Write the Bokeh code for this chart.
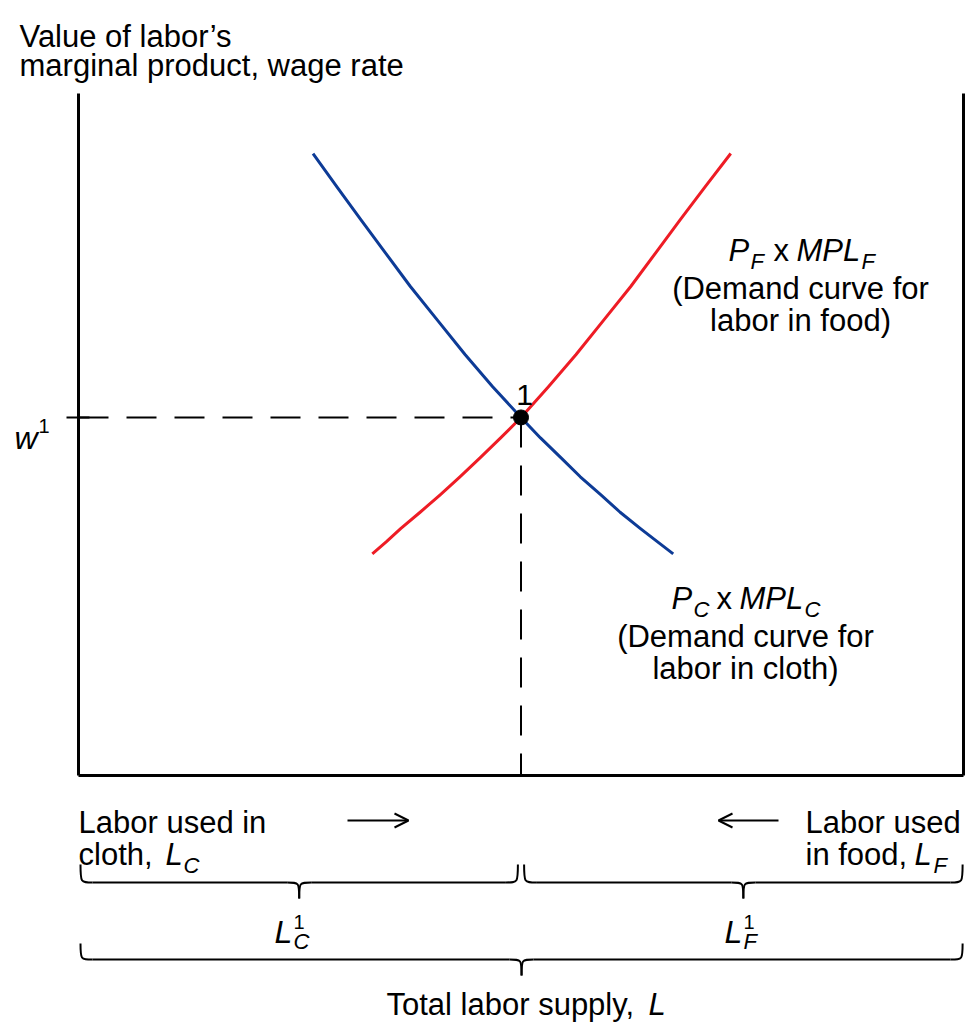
from bokeh.plotting import figure
from bokeh.models import Range1d, Arrow, OpenHead
from bokeh.core.properties import value
from bokeh.embed import file_html
from bokeh.resources import INLINE

# ---------------- data (labor on x: 0..100 total labor, wage on y) ----------------
total_labor = 100.0
axis_top = 100.0
labor_cloth_eq = 50.0      # L_C^1
wage_eq = 52.5             # w^1

# P_C x MPL_C (demand for labor in cloth), blue
cloth_x = [26.5, 29.2, 31.9, 34.7, 37.5, 40.6, 43.7, 46.8, 50.0, 52.2, 54.5, 56.7, 59.0, 61.2, 63.5, 65.4, 67.2]
cloth_y = [91.2, 86.3, 81.5, 76.6, 71.7, 66.7, 61.7, 57.0, 52.5, 49.5, 46.6, 43.8, 41.2, 38.6, 36.2, 34.3, 32.5]
# P_F x MPL_F (demand for labor in food), red
food_x = [33.2, 34.8, 36.4, 38.6, 40.9, 43.1, 45.4, 47.7, 50.0, 53.1, 56.2, 59.3, 62.4, 65.2, 68.0, 70.8, 73.7]
food_y = [32.5, 34.3, 36.2, 38.6, 41.2, 43.8, 46.6, 49.5, 52.5, 57.0, 61.7, 66.7, 71.7, 76.6, 81.5, 86.3, 91.2]

# ---------------- layout ----------------
W, H = 967, 1025
X0_PX, X1_PX = 78, 963
Y0_PX, Y1_PX = 775, 93
kx = (X1_PX - X0_PX) / total_labor
ky = (Y0_PX - Y1_PX) / axis_top


def sx(px):
    return (px - X0_PX) / kx


def sy(py):
    return (Y0_PX - py) / ky


FONT = "Liberation Sans"
BLUE = "#0d3b96"
RED = "#ee1c25"

p = figure(width=W, height=H, x_range=Range1d(sx(0), sx(W)), y_range=Range1d(sy(H), sy(0)),
           output_backend="svg", toolbar_location=None, min_border=0,
           x_axis_type=None, y_axis_type=None, outline_line_color=None,
           background_fill_color="white", border_fill_color="white")
p.grid.visible = False

# axes box
p.line([0, 0], [0, axis_top], line_color="black", line_width=3)
p.line([0, total_labor], [0, 0], line_color="black", line_width=3)
p.line([total_labor, total_labor], [0, axis_top], line_color="black", line_width=3)

# dashed guides
p.line([0, labor_cloth_eq], [wage_eq, wage_eq], line_color="black", line_width=2, line_dash="30 18")
p.line([labor_cloth_eq, labor_cloth_eq], [wage_eq, 0], line_color="black", line_width=2, line_dash="30 18")
p.line([sx(66), sx(89)], [wage_eq, wage_eq], line_color="black", line_width=2)

# curves
p.line(cloth_x, cloth_y, line_color=BLUE, line_width=3, line_join="round")
p.line(food_x, food_y, line_color=RED, line_width=3, line_join="round")
p.scatter([labor_cloth_eq], [wage_eq], size=15, color="black")


def txt(px, py, s, size=31, style="normal", align="left"):
    p.text(x=[sx(px)], y=[sy(py)], text=[s], text_font=value(FONT),
           text_font_size=value(f"{size}px"), text_font_style=value(style),
           text_align=value(align), text_baseline=value("alphabetic"), text_color="black")


# y-axis title
txt(19, 36, "Value of labor\u2019s")
txt(19, 65, "marginal product, wage rate")

# w^1
txt(14, 437, "w", size=32, style="italic")
txt(38, 425, "1", size=20)
# point label
txt(524, 394, "1", size=30, align="center")

# food label
txt(728, 250, "P", style="italic")
txt(750, 261, "F", size=22, style="italic")
txt(773, 250, "x")
txt(796, 250, "MPL", style="italic")
txt(861, 261, "F", size=22, style="italic")
txt(800, 288, "(Demand curve for", align="center")
txt(800, 320, "labor in food)", align="center")

# cloth label
txt(671, 598, "P", style="italic")
txt(693, 609, "C", size=22, style="italic")
txt(716, 598, "x")
txt(739, 598, "MPL", style="italic")
txt(804, 609, "C", size=22, style="italic")
txt(745, 636, "(Demand curve for", align="center")
txt(745, 668, "labor in cloth)", align="center")

# bottom labels
txt(78, 822, "Labor used in")
txt(78, 854, "cloth,")
txt(165, 854, "L", style="italic")
txt(183, 865, "C", size=22, style="italic")
txt(805, 822, "Labor used")
txt(805, 854, "in food,")
txt(914, 854, "L", style="italic")
txt(933, 865, "F", size=22, style="italic")

p.add_layout(Arrow(end=OpenHead(size=14, line_width=2, line_color="black"),
                   x_start=sx(347), y_start=sy(820), x_end=sx(408), y_end=sy(820),
                   line_width=2, line_color="black"))
p.add_layout(Arrow(end=OpenHead(size=14, line_width=2, line_color="black"),
                   x_start=sx(778), y_start=sy(820), x_end=sx(718), y_end=sy(820),
                   line_width=2, line_color="black"))


def brace(xa, xb, yend_px, yflat_px, ytip_px, r_px=12):
    xm = (xa + xb) / 2
    r = r_px / kx
    ye, yf, yt = sy(yend_px), sy(yflat_px), sy(ytip_px)
    p.bezier(x0=[xa, xm - r, xm, xb - r], y0=[ye, yf, yt, yf],
             x1=[xa + r, xm, xm + r, xb], y1=[yf, yt, yf, ye],
             cx0=[xa, xm, xm, xb], cy0=[yf, yf, yf, yf],
             cx1=[xa, xm, xm, xb], cy1=[yf, yf, yf, yf],
             line_color="black", line_width=2)
    p.segment(x0=[xa + r, xm + r], y0=[yf, yf], x1=[xm - r, xb - r], y1=[yf, yf],
              line_color="black", line_width=2)


brace(sx(80), labor_cloth_eq - 0.35, 864, 882, 898)
brace(labor_cloth_eq + 0.35, total_labor - 0.1, 864, 882, 898)
brace(sx(80), total_labor - 0.1, 943, 959, 975)

# L_C^1, L_F^1
txt(274, 931, "L", size=32, style="italic")
txt(293, 941, "C", size=22, style="italic")
txt(293, 921, "1", size=20)
txt(724, 931, "L", size=32, style="italic")
txt(743, 941, "F", size=22, style="italic")
txt(743, 921, "1", size=20)

# total labor
txt(386, 1004, "Total labor supply,")
txt(648, 1004, "L", style="italic")

open("out.html", "w").write(file_html(p, INLINE))
